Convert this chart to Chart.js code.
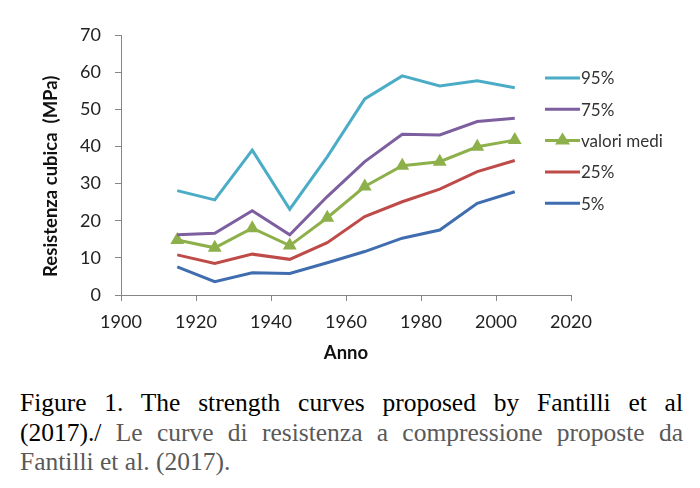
<!DOCTYPE html>
<html>
<head>
<meta charset="utf-8">
<script src="https://cdn.jsdelivr.net/npm/chart.js@4"></script>
<style>
  body { margin: 0; background: #fff; }
  #wrap { position: relative; width: 700px; height: 372px; }
  #caption {
    position: absolute; left: 20px; top: 388px; width: 663px;
    font-family: "Liberation Serif", "Times New Roman", serif;
    font-size: 25.5px; line-height: 29.5px; color: #595959;
  }
  #caption .riga { text-align: justify; text-align-last: justify; }
  #caption .en { color: #000; }
</style>
</head>
<body>
<div id="wrap"><canvas id="chart1"></canvas></div>
<div id="caption">
  <div class="riga"><span class="en">Figure 1. The strength curves proposed by Fantilli et al</span></div>
  <div class="riga"><span class="en">(2017)./</span> Le curve di resistenza a compressione proposte da</div>
  <div>Fantilli et al. (2017).</div>
</div>
<script>
const anni = [1915, 1925, 1935, 1945, 1955, 1965, 1975, 1985, 1995, 2005];
const p95 = [28.1, 25.6, 39.0, 23.1, 37.2, 52.8, 59.0, 56.3, 57.7, 55.8];
const p75 = [16.2, 16.6, 22.7, 16.2, 26.5, 35.9, 43.3, 43.1, 46.7, 47.6];
const medi = [14.8, 12.7, 18.0, 13.3, 20.8, 29.2, 34.8, 35.9, 39.9, 41.7];
const p25 = [10.8, 8.5, 11.0, 9.6, 14.1, 21.1, 25.1, 28.5, 33.2, 36.2];
const p5 = [7.6, 3.6, 6.0, 5.8, 8.7, 11.7, 15.3, 17.5, 24.7, 27.8];
const xTicks = [1900, 1920, 1940, 1960, 1980, 2000, 2020];
const yTicks = [0, 10, 20, 30, 40, 50, 60, 70];

function punti(valori) {
  return anni.map((a, i) => ({x: a, y: valori[i]}));
}

function serie(label, valori, colore, triangoli) {
  return {
    label: label,
    data: punti(valori),
    borderColor: colore,
    backgroundColor: colore,
    borderWidth: 3,
    pointStyle: 'triangle',
    pointRadius: triangoli ? 8 : 0,
    pointBorderWidth: 0,
    tension: 0
  };
}

// legenda a destra, come nel grafico Excel
const legendaLaterale = {
  id: 'legendaLaterale',
  afterDraw(chart) {
    const ctx = chart.ctx;
    const x0 = chart.chartArea.right - 26;
    const y0 = chart.chartArea.top + 43;
    ctx.save();
    ctx.font = '17px Lato';
    ctx.textBaseline = 'middle';
    chart.data.datasets.forEach((ds, i) => {
      const y = y0 + i * 31.3;
      ctx.strokeStyle = ds.borderColor;
      ctx.lineWidth = 3;
      ctx.beginPath();
      ctx.moveTo(x0, y);
      ctx.lineTo(x0 + 35, y);
      ctx.stroke();
      if (ds.pointRadius > 0) {
        ctx.fillStyle = ds.borderColor;
        ctx.beginPath();
        ctx.moveTo(x0 + 17.5, y - 8);
        ctx.lineTo(x0 + 25, y + 4);
        ctx.lineTo(x0 + 10, y + 4);
        ctx.closePath();
        ctx.fill();
      }
      ctx.fillStyle = '#333';
      ctx.fillText(ds.label, x0 + 36, y + 1);
    });
    ctx.restore();
  }
};

var chartResistenza;

document.addEventListener('DOMContentLoaded', function() {
  const ctx1 = document.getElementById('chart1');

  chartResistenza = new Chart(ctx1, {
    type: 'line',
    data: {
      datasets: [
        serie('95%', p95, '#4BACC6', false),
        serie('75%', p75, '#7D5FA0', false),
        serie('valori medi', medi, '#8DB04B', true),
        serie('25%', p25, '#BE4B48', false),
        serie('5%', p5, '#3F6DAF', false)
      ]
    },
    options: {
      responsive: true,
      maintainAspectRatio: false,
      animation: false,
      layout: {padding: {left: 36, right: 129, top: 35, bottom: 4}},
      scales: {
        x: {
          type: 'linear',
          min: 1900,
          max: 2020,
          afterBuildTicks: (s) => { s.ticks = xTicks.map(v => ({value: v})); },
          afterFit: (s) => { s.height = 73; },
          grid: {drawOnChartArea: false, color: '#868686', tickLength: 6},
          border: {color: '#868686', width: 1},
          ticks: {
            color: '#222', font: {family: 'Lato', size: 18}, padding: 10, maxRotation: 0,
            callback: (v) => String(v)
          },
          title: {display: true, text: 'Anno', color: '#111', font: {family: 'Lato', size: 18.5, weight: 'bold'}, padding: {top: 4, bottom: 4}}
        },
        y: {
          min: 0,
          max: 70,
          afterBuildTicks: (s) => { s.ticks = yTicks.map(v => ({value: v})); },
          afterFit: (s) => { s.width = 85; },
          grid: {drawOnChartArea: false, color: '#868686', tickLength: 6},
          border: {color: '#868686', width: 1},
          ticks: {color: '#222', font: {family: 'Lato', size: 18}, padding: 14},
          // spazi finali: il titolo nel riferimento sta un po' piu in basso
          title: {display: true, text: 'Resistenza cubica  (MPa)     ', color: '#111', font: {family: 'Lato', size: 18.5, weight: 'bold'}, padding: {top: 4, bottom: 4}}
        }
      },
      plugins: {
        legend: {display: false},
        tooltip: {enabled: false}
      }
    },
    plugins: [legendaLaterale]
  });
});
</script>
</body>
</html>
